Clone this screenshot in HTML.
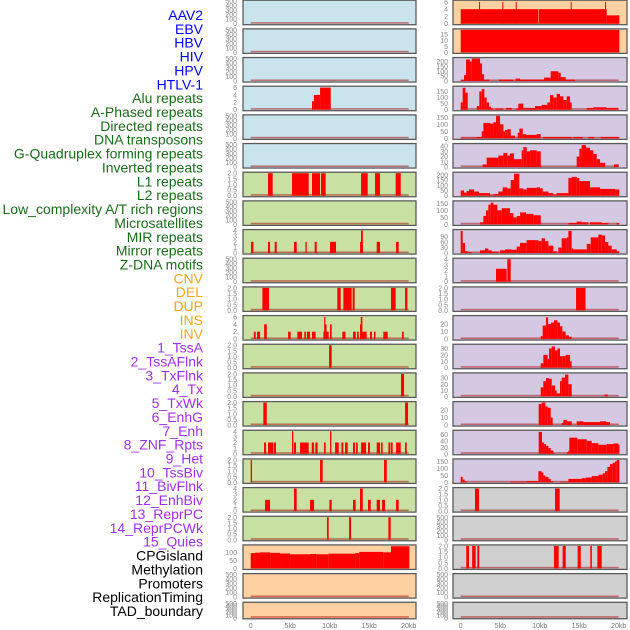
<!DOCTYPE html>
<html><head><meta charset="utf-8">
<style>
html,body{margin:0;padding:0;background:#fff;}
svg{display:block;font-family:"Liberation Sans",sans-serif;}
</style></head>
<body>
<svg id="chart" width="630" height="630" viewBox="0 0 630 630" xmlns="http://www.w3.org/2000/svg"></svg>
<script>
// ---------- data ----------
const trackLabels = ["AAV2","EBV","HBV","HIV","HPV","HTLV-1","Alu repeats","A-Phased repeats","Directed repeats","DNA transposons","G-Quadruplex forming repeats","Inverted repeats","L1 repeats","L2 repeats","Low_complexity A/T rich regions","Microsatellites","MIR repeats","Mirror repeats","Z-DNA motifs","CNV","DEL","DUP","INS","INV","1_TssA","2_TssAFlnk","3_TxFlnk","4_Tx","5_TxWk","6_EnhG","7_Enh","8_ZNF_Rpts","9_Het","10_TssBiv","11_BivFlnk","12_EnhBiv","13_ReprPC","14_ReprPCWk","15_Quies","CPGisland","Methylation","Promoters","ReplicationTiming","TAD_boundary"];
const trackGroups = ["virus","virus","virus","virus","virus","virus","repeat","repeat","repeat","repeat","repeat","repeat","repeat","repeat","repeat","repeat","repeat","repeat","repeat","sv","sv","sv","sv","sv","chrom","chrom","chrom","chrom","chrom","chrom","chrom","chrom","chrom","chrom","chrom","chrom","chrom","chrom","chrom","other","other","other","other","other"];
const xTicks = [0,5,10,15,20];
const xTickLabels = ["0","5kb","10kb","15kb","20kb"];

const tk500 = ["0","100","200","300","400","500"];
const tk2 = ["0.0","0.5","1.0","1.5","2.0"];
const tk4 = ["0","1","2","3","4"];
const tk6 = ["0","2","4","6"];

const yMax = [500,500,500,6.1,500,500,2,500,4,500,2,6.1,2,2,2,4,2,4,2,140,500,500,
              6.2,19,230,185,160,43,215,160,122,4,2,30,35,37,30,70,160,2,500,2,500,500];
const yTicks = [tk500,tk500,tk500,tk6,tk500,tk500,tk2,tk500,tk4,tk500,tk2,tk6,tk2,tk2,tk2,tk4,tk2,tk4,tk2,["0","50","100"],tk500,tk500,
  tk6,["0","5","10","15"],["0","50","100","150","200"],["0","50","100","150"],["0","50","100","150"],["0","10","20","30","40"],["0","50","100","150","200"],["0","50","100","150"],["0","30","60","90"],tk4,tk2,["0","10","20"],["0","10","20","30"],["0","10","20","30"],["0","10","20"],["0","20","40","60"],["0","50","100","150"],tk2,tk500,tk2,tk500,tk500];

const segHIV = [[7.76,8.0,2.3],[8.0,8.78,4],[8.78,10.13,6]];
const segAlu = [[2.19,2.78,2],[5.23,7.34,2],[7.76,8.78,2],[8.9,9.49,2],[13.97,14.81,2],[15.74,16.37,2],[18.35,18.99,2]];
const segDirected = [[0.04,0.34,2],[2.19,2.45,2],[3.04,3.29,2],[5.48,5.82,2],[6.92,7.09,2],[8.1,8.35,2],[10.04,10.8,2],[13.84,14.2,2],[13.97,14.2,4],[15.95,16.37,2],[18.4,18.73,2]];
const segGQuad = [[1.48,2.32,2],[10.97,11.39,2],[11.73,12.78,2],[12.9,13.16,2],[17.76,18.35,2],[19.54,19.83,2]];
const segInverted = [[0.4,0.63,2],[0.8,1.18,2],[1.7,2.03,4],[4.73,5.06,2],[5.9,6.5,2],[6.79,7.0,2],[7.13,7.51,2],[7.76,8.22,2],[9.2,9.87,2],[9.4,9.6,4],[9.3,9.45,6],[10.04,10.25,4],[11.6,12.0,2],[12.95,13.3,2],[13.46,13.67,2],[13.84,14.68,2],[13.84,14.1,4],[13.93,14.14,6],[15.1,15.35,2],[15.6,15.8,2],[16.79,17.34,2],[19.15,19.37,2]];
const segL1 = [[9.92,10.25,2]];
const segL2 = [[19.03,19.41,2]];
const segLowComplex = [[1.6,2.03,2],[19.54,19.92,2]];
const segMicrosat = [[1.69,1.94,2],[2.19,2.87,2],[2.95,3.2,2],[5.23,5.4,4],[5.48,5.74,2],[6.24,7.34,2],[7.72,8.02,2],[8.18,8.48,2],[9.28,9.49,2],[10.04,10.21,4],[10.68,11.14,2],[11.48,11.73,2],[11.94,12.28,2],[12.95,13.2,2],[13.33,13.54,2],[13.97,14.6,2],[14.85,15.1,2],[15.95,16.37,2],[16.5,16.7,2],[17.43,17.64,2],[17.72,17.97,2],[18.4,18.99,2],[19.54,19.75,2]];
const segMIR = [[0,0.17,2],[8.78,9.11,2],[16.88,17.22,2]];
const segMirror = [[1.81,2.45,2],[5.48,5.82,4],[7.51,8.02,2],[9.96,10.25,2],[12.95,13.29,2],[13.84,14.18,4],[14.85,15.19,2],[15.95,16.37,2],[16.62,17.0,2],[18.4,18.73,2]];
const segZDNA = [[9.66,9.87,2],[12.45,12.7,2],[17.43,17.72,2]];
const segCNV = [[0,0.55,95],[0.55,1.18,98],[1.18,2.45,100],[2.45,3.71,97],[3.71,4.98,93],[4.98,7.51,88],[7.51,8.35,90],[8.35,9.83,88],[9.83,13.21,92],[13.21,13.75,95],[13.75,16.79,103],[16.79,17.76,100],[17.76,20.08,138]];
const segINS = [[0,9.83,4],[9.9,18.48,4],[18.48,20.08,2.3],[2.32,2.45,6],[5.27,5.4,6],[6.96,7.09,6],[13.93,14.05,6],[18.27,18.4,6]];
const segINV = [[0,20.08,19]];
const segTssA = [[0,0.42,10],[0.42,0.68,60],[0.68,1.18,220],[1.18,1.39,200],[1.39,2.45,230],[2.45,2.7,180],[2.7,2.95,70],[2.95,3.62,15],[4.85,6.67,15],[6.96,7.51,25],[7.51,10.55,15],[10.55,11.39,35],[11.39,12.36,100],[12.36,12.66,85],[12.66,13.29,40],[13.29,14.47,15]];
const segTssAFlnk = [[0,0.25,60],[0.25,0.59,180],[0.59,0.89,140],[2.03,2.36,30],[2.36,2.66,150],[2.66,3.0,170],[3.0,3.29,100],[3.29,3.59,60],[3.59,3.84,25],[3.84,4.14,10],[4.35,5.4,10],[5.74,6.45,15],[6.96,7.38,10],[7.3,7.93,50],[7.93,8.35,15],[8.35,9.41,15],[9.41,10.25,30],[10.25,10.97,40],[10.97,11.31,60],[11.31,11.73,120],[11.73,12.15,100],[12.15,12.57,130],[12.57,13.0,110],[13.0,13.42,80],[13.42,13.84,110],[13.84,14.05,60],[15.95,16.79,15],[16.79,18.48,20],[18.48,19.96,15]];
const segTxFlnk = [[0,2.03,5],[2.03,2.66,10],[2.66,2.87,50],[2.87,3.71,110],[3.71,4.14,105],[4.14,4.47,115],[4.47,4.98,160],[4.98,5.4,100],[5.4,5.61,50],[5.61,5.9,60],[5.9,6.33,65],[6.33,6.88,20],[7.21,7.42,40],[7.42,7.85,70],[7.85,8.27,30],[8.27,9.62,25],[9.62,10.13,30],[10.46,14.05,10],[14.26,15.44,10],[16.16,16.88,10],[17.72,20.08,10]];
const segTx = [[2.78,3.29,5],[3.29,4.77,18],[4.77,5.4,22],[5.4,5.9,27],[5.9,6.24,22],[6.24,6.75,26],[6.75,7.72,15],[7.72,7.93,32],[7.93,8.35,38],[8.35,8.78,30],[8.78,9.62,32],[9.62,10.13,30],[14.68,15.02,20],[15.02,15.31,35],[15.31,15.86,42],[15.86,16.37,37],[16.37,16.79,32],[16.79,17.22,25],[17.22,17.64,15],[17.64,18.27,8],[19.41,20.0,5]];
const segTxWk = [[0,0.42,50],[0.42,0.76,30],[0.76,1.05,45],[1.05,1.69,60],[1.69,2.32,40],[2.32,3.71,25],[3.71,4.14,5],[4.14,4.77,15],[4.77,5.31,40],[5.31,5.9,80],[5.9,6.33,70],[6.33,6.75,150],[6.75,7.42,210],[7.42,7.93,70],[7.93,8.35,60],[8.35,9.62,75],[9.62,10.04,80],[10.04,10.38,70],[10.38,11.1,40],[11.1,11.73,25],[11.73,12.15,10],[12.15,13.63,25],[13.63,14.05,170],[14.05,14.68,180],[14.68,15.02,170],[15.02,16.37,140],[16.37,17.64,80],[17.64,19.54,65],[19.54,20.08,60]];
const segEnhG = [[2.45,2.87,15],[2.87,3.2,60],[3.2,3.5,100],[3.5,3.8,140],[3.8,4.14,155],[4.14,4.64,140],[4.64,5.19,100],[5.19,6.24,115],[6.24,6.67,80],[6.67,7.09,50],[7.09,7.51,60],[7.51,8.27,85],[8.27,9.2,75],[9.2,10.13,65],[13.63,14.68,10],[14.68,15.31,20],[15.31,16.16,15],[16.37,17.85,15],[17.85,18.69,10],[19.75,20.08,10]];
const segEnh = [[0,0.25,120],[0.25,0.55,55],[0.55,0.97,10],[0.97,1.39,5],[2.45,3.08,15],[3.08,3.5,25],[3.5,3.92,15],[3.92,4.77,8],[4.98,5.61,15],[5.61,6.45,20],[6.45,7.09,18],[7.09,7.51,35],[7.51,8.35,55],[8.35,9.41,70],[9.41,9.83,70],[9.83,10.25,65],[10.25,10.68,80],[10.68,11.1,65],[11.1,11.73,40],[11.73,12.15,10],[12.36,12.78,30],[12.78,13.42,80],[13.42,13.63,85],[13.63,14.05,120],[14.05,14.26,25],[14.26,15.95,20],[15.95,16.46,50],[16.46,17.43,85],[17.43,17.85,100],[17.85,18.27,95],[18.27,18.69,60],[18.69,19.11,40],[19.11,19.75,20],[19.75,20.08,10]];
const segZNF = [[4.47,5.82,2.3],[5.9,6.33,4]];
const segHet = [[14.6,15.8,2]];
const segTssBiv = [[10.13,10.38,4],[10.38,10.8,18],[10.8,11.06,29],[11.06,11.43,20],[11.43,11.81,22],[11.81,12.24,25],[12.24,12.57,22],[12.57,12.87,17],[12.87,13.29,10],[13.29,13.71,5],[13.71,14.05,3]];
const segBivFlnk = [[10.13,10.46,7],[10.46,11.01,20],[11.01,11.18,14],[11.18,11.52,30],[11.52,11.94,33],[11.94,12.24,27],[12.24,12.57,30],[12.57,12.91,18],[12.91,13.29,18],[13.29,13.84,20],[13.84,14.05,10]];
const segEnhBiv = [[10.13,10.46,15],[10.46,10.8,25],[10.8,11.18,30],[11.18,11.52,29],[11.52,11.94,18],[11.94,12.15,10],[12.15,12.57,5],[12.57,12.78,25],[12.78,13.21,31],[13.21,13.63,36],[13.63,14.05,20],[18.19,18.61,3]];
const segReprPC = [[9.87,10.25,28],[10.25,10.72,30],[10.72,11.01,25],[11.01,11.39,23],[11.39,11.64,10],[12.78,13.0,3],[13.0,13.42,7],[13.42,14.05,5],[14.68,15.53,5],[15.53,17.64,4],[17.64,18.4,5],[18.4,18.9,4]];
const segReprPCWk = [[9.87,10.29,68],[10.29,10.55,35],[10.55,10.8,30],[10.8,11.1,25],[11.1,11.39,18],[11.39,11.73,10],[11.73,11.86,3],[13.42,13.63,5],[13.63,13.75,10],[13.75,14.76,50],[14.76,15.95,45],[15.95,16.58,40],[16.58,17.43,33],[17.43,18.48,28],[18.48,19.32,30],[19.32,19.96,32],[19.96,20.1,28]];
const segQuies = [[0,0.25,40],[0.25,0.5,20],[0.5,0.76,8],[6.24,8.35,5],[8.35,9.83,10],[9.83,10.25,80],[10.25,10.46,70],[10.46,10.68,50],[10.68,11.1,40],[11.1,11.39,25],[11.39,11.73,8],[12.57,13.63,5],[13.63,15.31,25],[15.31,15.82,30],[15.82,16.58,35],[16.58,17.43,45],[17.43,17.97,55],[17.97,18.27,65],[18.27,18.57,80],[18.57,18.9,110],[18.9,19.24,130],[19.24,19.54,140],[19.54,19.75,150],[19.75,20.08,160]];
const segCpG = [[1.81,2.32,2],[11.94,12.53,2]];
const segPromoters = [[0.7,1.05,2],[1.45,1.9,2],[2.1,2.35,2],[11.8,12.4,2],[12.9,13.3,2],[14.8,15.2,2],[16.4,16.6,2],[17.3,17.85,2]];
const empty = [];

const trackSegments = [empty,empty,empty,segHIV,empty,empty,segAlu,empty,segDirected,empty,segGQuad,segInverted,segL1,segL2,segLowComplex,segMicrosat,segMIR,segMirror,segZDNA,segCNV,empty,empty,
  segINS,segINV,segTssA,segTssAFlnk,segTxFlnk,segTx,segTxWk,segEnhG,segEnh,segZNF,segHet,segTssBiv,segBivFlnk,segEnhBiv,segReprPC,segReprPCWk,segQuies,segCpG,empty,segPromoters,empty,empty];

// ---------- drawing ----------
const NS = "http://www.w3.org/2000/svg";
const svg = document.getElementById("chart");
const groupTextColor = {virus:"#0000ff",repeat:"#1a6b1a",sv:"#ffa41c",chrom:"#a030f0",other:"#000000"};
const panelFill = {virus:"#c9e4ec",repeat:"#c8e1a2",sv:"#ffd1a1",chrom:"#d5c8e2",other:"#d0d0d0"};
function mk(tag, attrs){const e=document.createElementNS(NS,tag);for(const k in attrs)e.setAttribute(k,attrs[k]);return e;}

// left labels
trackLabels.forEach((lab,i)=>{
  const t=mk("text",{x:203,y:(20+i*13.86).toFixed(2),"text-anchor":"end","font-size":"14",fill:groupTextColor[trackGroups[i]]});
  
  
  t.textContent=lab;svg.appendChild(t);
});

const cols=[{x0:243,x1:416,zero:250.7,tickX:237},{x0:453,x1:627,zero:460.7,tickX:448}];
const pxPerKb=7.9;
function xScale(col,kb){return cols[col].zero+kb*pxPerKb;}

for(let i=0;i<trackLabels.length;i++){
  const col=i<22?0:1, row=i%22;
  const top=0.2+row*28.67, h=(row===21)?16.5:24.5;
  const c=cols[col];
  const g=mk("g",{});
  
  
  svg.appendChild(g);
  g.appendChild(mk("rect",{x:c.x0,y:top,width:c.x1-c.x0,height:h,fill:panelFill[trackGroups[i]],stroke:"#5a5a5a","stroke-width":"1.3"}));
  const pTop=top+1, pBot=top+h-1;
  const yS=v=>pBot-(v/yMax[i])*(pBot-pTop);
  // baseline
  const bl=mk("rect",{x:xScale(col,0),y:pBot-1.6,width:20*pxPerKb,height:1.6,fill:"rgba(170,20,20,0.55)"});
  
  
  g.appendChild(bl);
  // bars
  trackSegments[i].forEach(s=>{
    const y=yS(Math.min(s[2],yMax[i]));
    const r=mk("rect",{x:xScale(col,s[0]).toFixed(2),y:y.toFixed(2),width:Math.max(0.8,(s[1]-s[0])*pxPerKb).toFixed(2),height:(pBot-y).toFixed(2),fill:"#ff0000"});
    
    
    g.appendChild(r);
  });
  // y ticks
  yTicks[i].forEach(tl=>{
    const v=parseFloat(tl);
    const t=mk("text",{x:c.tickX,y:(yS(v)+2.5).toFixed(2),"text-anchor":"end","font-size":"7",fill:"#8a8a8a"});
    
    
    t.textContent=tl;g.appendChild(t);
  });
}
// x axis labels
for(let col=0;col<2;col++){
  xTicks.forEach((kb,j)=>{
    const t=mk("text",{x:xScale(col,kb).toFixed(2),y:628,"text-anchor":"middle","font-size":"7",fill:"#777"});
    
    
    t.textContent=xTickLabels[j];svg.appendChild(t);
  });
}
</script>
</body></html>
